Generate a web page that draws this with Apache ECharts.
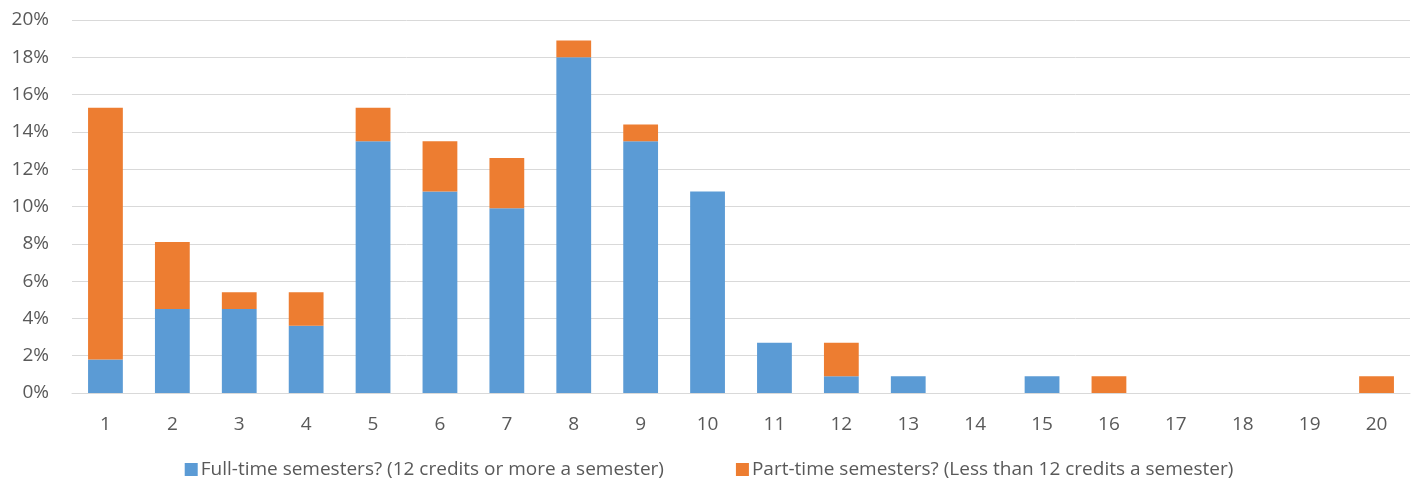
<!DOCTYPE html>
<html>
<head>
<meta charset="utf-8">
<script src="https://cdn.jsdelivr.net/npm/echarts@6/dist/echarts.min.js"></script>
<style>
html,body{margin:0;padding:0;background:#fff;}
#chart{width:1418px;height:491px;}
</style>
</head>
<body>
<div id="chart"></div>
<script>
const categories = ['1','2','3','4','5','6','7','8','9','10','11','12','13','14','15','16','17','18','19','20'];
const fullTime = [1.8,4.5,4.5,3.6,13.5,10.8,9.9,18.0,13.5,10.8,2.7,0.9,0.9,0,0.9,0,0,0,0,0];
const partTime = [13.5,3.6,0.9,1.8,1.8,2.7,2.7,0.9,0.9,0,0,1.8,0,0,0,0.9,0,0,0,0.9];
const yTicks = [0,2,4,6,8,10,12,14,16,18,20];
const seriesNames = ['Full-time semesters? (12 credits or more a semester)','Part-time semesters? (Less than 12 credits a semester)'];

const font = '"Open Sans", "Liberation Sans", sans-serif';
const chart = echarts.init(document.getElementById('chart'));
chart.setOption({
  animation: false,
  textStyle: {fontFamily: font},
  grid: {left: 72, right: 8, top: 20, bottom: 98},
  legend: {
    bottom: 7,
    left: 'center',
    itemWidth: 13, itemHeight: 13, itemGap: 72,
    icon: 'rect',
    textStyle: {fontSize: 19, color: '#595959', fontFamily: font, padding: [0,0,0,-2]},
    data: seriesNames
  },
  xAxis: {
    type: 'category',
    data: categories,
    axisLine: {show: true, lineStyle: {color: '#D9D9D9'}},
    axisTick: {show: false},
    axisLabel: {fontSize: 19, color: '#595959', margin: 22, fontFamily: font}
  },
  yAxis: {
    type: 'value',
    min: yTicks[0], max: yTicks[yTicks.length-1], interval: 2,
    axisLine: {show: false},
    axisTick: {show: false},
    splitLine: {lineStyle: {color: '#D9D9D9'}},
    axisLabel: {fontSize: 19, color: '#595959', margin: 23, formatter: v => v + '%', fontFamily: font}
  },
  series: [
    {name: seriesNames[0], type: 'bar', stack: 's', data: fullTime, barWidth: '52%', itemStyle: {color: '#5B9BD5'}},
    {name: seriesNames[1], type: 'bar', stack: 's', data: partTime, barWidth: '52%', itemStyle: {color: '#ED7D31'}}
  ]
});
</script>
</body>
</html>
